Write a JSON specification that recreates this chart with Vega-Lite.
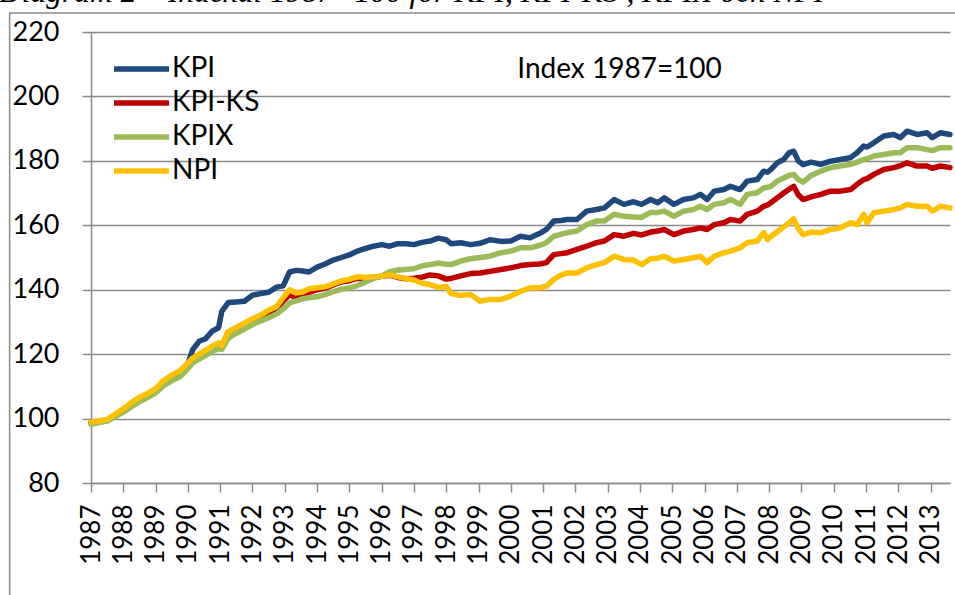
{
  "$schema": "https://vega.github.io/schema/vega-lite/v6.json",
  "autosize": {"type": "none"},
  "width": 859,
  "height": 451,
  "padding": {"left": 91, "top": 32, "right": 5, "bottom": 112},
  "background": "white",
  "title": {
    "text": "Diagram 2 – Indexal 1987=100 för KPI, KPI-KS , KPIX och NPI",
    "anchor": "start",
    "frame": "group",
    "dx": -92,
    "offset": -21,
    "baseline": "alphabetic",
    "font": "Liberation Serif",
    "fontStyle": "italic",
    "fontWeight": "normal",
    "fontSize": 31.5,
    "color": "black"
  },
  "config": {
    "view": {"stroke": null},
    "axis": {
      "labelFont": "Lato",
      "labelFontSize": 27,
      "labelColor": "black",
      "labelOverlap": false,
      "domainColor": "#8a8a8a",
      "domainWidth": 1.5,
      "tickColor": "#8a8a8a",
      "tickWidth": 1.5,
      "tickSize": 9,
      "gridColor": "#8a8a8a",
      "gridWidth": 1.5,
      "title": null
    },
    "axisX": {"labelOverlap": false, "labelFontSize": 26},
    "legend": {
      "labelFont": "Lato",
      "labelFontSize": 28,
      "labelColor": "black"
    }
  },
  "data": {
    "values": [
      {"t": 1987.0, "KPI": 98.6, "KPI-KS": 98.6, "KPIX": 98.3, "NPI": 98.9},
      {"t": 1987.25, "KPI": 99.0, "KPI-KS": 99.0, "KPIX": 98.8, "NPI": 99.3},
      {"t": 1987.5, "KPI": 99.5, "KPI-KS": 99.5, "KPIX": 99.2, "NPI": 99.7},
      {"t": 1987.75, "KPI": 101.0, "KPI-KS": 101.0, "KPIX": 100.6, "NPI": 101.4},
      {"t": 1988.0, "KPI": 102.5, "KPI-KS": 102.5, "KPIX": 102.0, "NPI": 103.0},
      {"t": 1988.25, "KPI": 104.5, "KPI-KS": 104.5, "KPIX": 103.7, "NPI": 105.0},
      {"t": 1988.5, "KPI": 106.0, "KPI-KS": 106.0, "KPIX": 105.2, "NPI": 106.6},
      {"t": 1988.75, "KPI": 107.3, "KPI-KS": 107.3, "KPIX": 106.5, "NPI": 107.8},
      {"t": 1989.0, "KPI": 108.8, "KPI-KS": 108.8, "KPIX": 108.0, "NPI": 109.3},
      {"t": 1989.25, "KPI": 111.0, "KPI-KS": 111.0, "KPIX": 110.2, "NPI": 111.8},
      {"t": 1989.5, "KPI": 112.8, "KPI-KS": 112.8, "KPIX": 111.8, "NPI": 113.5},
      {"t": 1989.75, "KPI": 114.3, "KPI-KS": 114.2, "KPIX": 113.0, "NPI": 114.8},
      {"t": 1990.0, "KPI": 117.0, "KPI-KS": 116.8, "KPIX": 115.5, "NPI": 117.3},
      {"t": 1990.15, "KPI": 121.4, "KPI-KS": 118.6, "KPIX": 117.3, "NPI": 118.8},
      {"t": 1990.35, "KPI": 124.0, "KPI-KS": 119.5, "KPIX": 118.5, "NPI": 120.0},
      {"t": 1990.55, "KPI": 124.8, "KPI-KS": 120.8, "KPIX": 119.6, "NPI": 121.2},
      {"t": 1990.75, "KPI": 127.1, "KPI-KS": 122.0, "KPIX": 120.8, "NPI": 122.5},
      {"t": 1990.95, "KPI": 128.2, "KPI-KS": 123.2, "KPIX": 121.7, "NPI": 123.5},
      {"t": 1991.05, "KPI": 133.3, "KPI-KS": 122.5, "KPIX": 121.5, "NPI": 122.7},
      {"t": 1991.25, "KPI": 136.0, "KPI-KS": 126.8, "KPIX": 125.0, "NPI": 127.0},
      {"t": 1991.5, "KPI": 136.2, "KPI-KS": 128.0, "KPIX": 126.5, "NPI": 128.3},
      {"t": 1991.75, "KPI": 136.4, "KPI-KS": 129.3, "KPIX": 127.8, "NPI": 129.6},
      {"t": 1992.0, "KPI": 138.3, "KPI-KS": 130.8, "KPIX": 129.2, "NPI": 131.0},
      {"t": 1992.25, "KPI": 138.8, "KPI-KS": 131.8, "KPIX": 130.3, "NPI": 132.1},
      {"t": 1992.5, "KPI": 139.2, "KPI-KS": 133.0, "KPIX": 131.3, "NPI": 133.6},
      {"t": 1992.75, "KPI": 140.8, "KPI-KS": 134.0, "KPIX": 132.5, "NPI": 134.8},
      {"t": 1992.95, "KPI": 141.2, "KPI-KS": 136.5, "KPIX": 134.0, "NPI": 137.5},
      {"t": 1993.15, "KPI": 145.5, "KPI-KS": 138.5, "KPIX": 135.9, "NPI": 140.0},
      {"t": 1993.35, "KPI": 146.0, "KPI-KS": 137.5, "KPIX": 136.5, "NPI": 139.0},
      {"t": 1993.55, "KPI": 145.8, "KPI-KS": 138.2, "KPIX": 137.2, "NPI": 139.3},
      {"t": 1993.75, "KPI": 145.5, "KPI-KS": 139.2, "KPIX": 137.5, "NPI": 140.3},
      {"t": 1994.0, "KPI": 147.0, "KPI-KS": 140.0, "KPIX": 137.8, "NPI": 140.6},
      {"t": 1994.25, "KPI": 148.0, "KPI-KS": 140.5, "KPIX": 138.5, "NPI": 140.9},
      {"t": 1994.5, "KPI": 149.2, "KPI-KS": 141.5, "KPIX": 139.4, "NPI": 141.8},
      {"t": 1994.75, "KPI": 150.0, "KPI-KS": 142.4, "KPIX": 140.1, "NPI": 142.7},
      {"t": 1995.0, "KPI": 150.8, "KPI-KS": 142.8, "KPIX": 140.6, "NPI": 143.2},
      {"t": 1995.25, "KPI": 152.0, "KPI-KS": 143.5, "KPIX": 141.3, "NPI": 144.0},
      {"t": 1995.5, "KPI": 152.8, "KPI-KS": 143.5, "KPIX": 142.4, "NPI": 143.9},
      {"t": 1995.75, "KPI": 153.5, "KPI-KS": 143.7, "KPIX": 143.5, "NPI": 144.0},
      {"t": 1996.0, "KPI": 154.0, "KPI-KS": 144.2, "KPIX": 144.2, "NPI": 144.2},
      {"t": 1996.25, "KPI": 153.5, "KPI-KS": 144.5, "KPIX": 145.6, "NPI": 144.6},
      {"t": 1996.5, "KPI": 154.3, "KPI-KS": 143.8, "KPIX": 146.1, "NPI": 144.0},
      {"t": 1996.75, "KPI": 154.3, "KPI-KS": 143.4, "KPIX": 146.3, "NPI": 143.5},
      {"t": 1997.0, "KPI": 154.0, "KPI-KS": 143.6, "KPIX": 146.5, "NPI": 143.0},
      {"t": 1997.25, "KPI": 154.7, "KPI-KS": 143.9, "KPIX": 147.4, "NPI": 142.0},
      {"t": 1997.5, "KPI": 155.1, "KPI-KS": 144.6, "KPIX": 147.8, "NPI": 141.6},
      {"t": 1997.75, "KPI": 156.0, "KPI-KS": 144.3, "KPIX": 148.3, "NPI": 140.7},
      {"t": 1998.0, "KPI": 155.5, "KPI-KS": 143.3, "KPIX": 147.9, "NPI": 141.0},
      {"t": 1998.15, "KPI": 154.3, "KPI-KS": 143.5, "KPIX": 147.8, "NPI": 138.8},
      {"t": 1998.45, "KPI": 154.6, "KPI-KS": 144.3, "KPIX": 148.9, "NPI": 138.2},
      {"t": 1998.75, "KPI": 154.0, "KPI-KS": 145.0, "KPIX": 149.6, "NPI": 138.5},
      {"t": 1999.05, "KPI": 154.4, "KPI-KS": 145.2, "KPIX": 150.0, "NPI": 136.4},
      {"t": 1999.35, "KPI": 155.5, "KPI-KS": 145.7, "KPIX": 150.4, "NPI": 137.0},
      {"t": 1999.7, "KPI": 155.0, "KPI-KS": 146.3, "KPIX": 151.5, "NPI": 137.0},
      {"t": 2000.0, "KPI": 155.1, "KPI-KS": 146.8, "KPIX": 152.0, "NPI": 138.0},
      {"t": 2000.3, "KPI": 156.6, "KPI-KS": 147.5, "KPIX": 153.0, "NPI": 139.5},
      {"t": 2000.6, "KPI": 156.1, "KPI-KS": 147.8, "KPIX": 153.0, "NPI": 140.6},
      {"t": 2000.9, "KPI": 157.5, "KPI-KS": 148.0, "KPIX": 153.8, "NPI": 140.6},
      {"t": 2001.1, "KPI": 158.7, "KPI-KS": 148.4, "KPIX": 154.6, "NPI": 141.1},
      {"t": 2001.33, "KPI": 161.3, "KPI-KS": 150.9, "KPIX": 156.6, "NPI": 143.2},
      {"t": 2001.55, "KPI": 161.5, "KPI-KS": 151.2, "KPIX": 157.2, "NPI": 144.5},
      {"t": 2001.75, "KPI": 161.8, "KPI-KS": 151.5, "KPIX": 157.7, "NPI": 145.2},
      {"t": 2002.05, "KPI": 161.8, "KPI-KS": 152.5, "KPIX": 158.2, "NPI": 145.2},
      {"t": 2002.35, "KPI": 164.4, "KPI-KS": 153.5, "KPIX": 160.2, "NPI": 146.8},
      {"t": 2002.65, "KPI": 164.9, "KPI-KS": 154.6, "KPIX": 161.3, "NPI": 147.8},
      {"t": 2002.9, "KPI": 165.4, "KPI-KS": 155.1, "KPIX": 161.3, "NPI": 148.4},
      {"t": 2003.2, "KPI": 168.0, "KPI-KS": 157.1, "KPIX": 163.4, "NPI": 150.4},
      {"t": 2003.5, "KPI": 166.5, "KPI-KS": 156.6, "KPIX": 162.8, "NPI": 149.4},
      {"t": 2003.8, "KPI": 167.3, "KPI-KS": 157.5, "KPIX": 162.6, "NPI": 149.2},
      {"t": 2004.05, "KPI": 166.5, "KPI-KS": 157.0, "KPIX": 162.5, "NPI": 147.8},
      {"t": 2004.33, "KPI": 168.0, "KPI-KS": 157.9, "KPIX": 164.0, "NPI": 149.6},
      {"t": 2004.55, "KPI": 167.0, "KPI-KS": 158.2, "KPIX": 164.0, "NPI": 149.8},
      {"t": 2004.75, "KPI": 168.5, "KPI-KS": 158.7, "KPIX": 164.4, "NPI": 150.4},
      {"t": 2005.05, "KPI": 166.5, "KPI-KS": 157.1, "KPIX": 162.8, "NPI": 148.9},
      {"t": 2005.35, "KPI": 168.0, "KPI-KS": 158.2, "KPIX": 164.4, "NPI": 149.4},
      {"t": 2005.65, "KPI": 168.5, "KPI-KS": 158.7, "KPIX": 164.9, "NPI": 149.9},
      {"t": 2005.87, "KPI": 169.6, "KPI-KS": 159.2, "KPIX": 165.9, "NPI": 150.4},
      {"t": 2006.08, "KPI": 168.0, "KPI-KS": 158.7, "KPIX": 164.9, "NPI": 148.4},
      {"t": 2006.3, "KPI": 170.6, "KPI-KS": 160.2, "KPIX": 166.5, "NPI": 150.4},
      {"t": 2006.6, "KPI": 171.1, "KPI-KS": 160.8, "KPIX": 167.0, "NPI": 151.5},
      {"t": 2006.8, "KPI": 172.1, "KPI-KS": 161.8, "KPIX": 168.0, "NPI": 152.0},
      {"t": 2007.1, "KPI": 171.1, "KPI-KS": 161.3, "KPIX": 166.5, "NPI": 153.0},
      {"t": 2007.32, "KPI": 173.7, "KPI-KS": 163.4, "KPIX": 169.6, "NPI": 154.6},
      {"t": 2007.63, "KPI": 174.2, "KPI-KS": 164.4, "KPIX": 170.1, "NPI": 155.1},
      {"t": 2007.83, "KPI": 176.8, "KPI-KS": 165.9, "KPIX": 171.6, "NPI": 157.7},
      {"t": 2007.95, "KPI": 176.5, "KPI-KS": 166.3, "KPIX": 171.8, "NPI": 155.6},
      {"t": 2008.05, "KPI": 177.3, "KPI-KS": 167.0, "KPIX": 172.1, "NPI": 156.5},
      {"t": 2008.25, "KPI": 179.4, "KPI-KS": 168.5, "KPIX": 173.7, "NPI": 158.0},
      {"t": 2008.45, "KPI": 180.4, "KPI-KS": 170.0, "KPIX": 174.7, "NPI": 159.5},
      {"t": 2008.62, "KPI": 182.5, "KPI-KS": 171.2, "KPIX": 175.5, "NPI": 160.8},
      {"t": 2008.76, "KPI": 183.0, "KPI-KS": 172.1, "KPIX": 175.8, "NPI": 162.0},
      {"t": 2008.9, "KPI": 180.0, "KPI-KS": 169.5, "KPIX": 174.2, "NPI": 159.0},
      {"t": 2009.05, "KPI": 178.8, "KPI-KS": 168.0, "KPIX": 173.4, "NPI": 157.1},
      {"t": 2009.3, "KPI": 179.6, "KPI-KS": 168.8, "KPIX": 175.5, "NPI": 157.9},
      {"t": 2009.6, "KPI": 178.9, "KPI-KS": 169.6, "KPIX": 176.8, "NPI": 157.7},
      {"t": 2009.9, "KPI": 179.9, "KPI-KS": 170.6, "KPIX": 177.9, "NPI": 158.7},
      {"t": 2010.2, "KPI": 180.4, "KPI-KS": 170.6, "KPIX": 178.4, "NPI": 159.2},
      {"t": 2010.52, "KPI": 181.0, "KPI-KS": 171.1, "KPIX": 178.9, "NPI": 160.8},
      {"t": 2010.72, "KPI": 182.5, "KPI-KS": 172.7, "KPIX": 179.6, "NPI": 160.2},
      {"t": 2010.93, "KPI": 184.6, "KPI-KS": 174.2, "KPIX": 180.4, "NPI": 163.4},
      {"t": 2011.03, "KPI": 184.3, "KPI-KS": 174.5, "KPIX": 180.6, "NPI": 160.8},
      {"t": 2011.24, "KPI": 185.6, "KPI-KS": 175.8, "KPIX": 181.5, "NPI": 163.9},
      {"t": 2011.55, "KPI": 187.7, "KPI-KS": 177.3, "KPIX": 182.0, "NPI": 164.4},
      {"t": 2011.86, "KPI": 188.2, "KPI-KS": 177.9, "KPIX": 182.5, "NPI": 164.9},
      {"t": 2012.06, "KPI": 187.2, "KPI-KS": 178.5, "KPIX": 182.5, "NPI": 165.4},
      {"t": 2012.27, "KPI": 189.2, "KPI-KS": 179.4, "KPIX": 184.1, "NPI": 166.5},
      {"t": 2012.58, "KPI": 188.2, "KPI-KS": 178.4, "KPIX": 184.1, "NPI": 165.9},
      {"t": 2012.89, "KPI": 188.7, "KPI-KS": 178.4, "KPIX": 183.5, "NPI": 165.9},
      {"t": 2013.05, "KPI": 187.2, "KPI-KS": 177.7, "KPIX": 183.2, "NPI": 164.4},
      {"t": 2013.3, "KPI": 188.7, "KPI-KS": 178.4, "KPIX": 184.1, "NPI": 165.9},
      {"t": 2013.6, "KPI": 188.2, "KPI-KS": 177.9, "KPIX": 184.1, "NPI": 165.4}
    ]
  },
  "encoding": {
    "x": {
      "field": "t",
      "type": "quantitative",
      "scale": {"domain": [1987, 2013.6], "nice": false, "zero": false},
      "axis": {
        "values": [1987, 1988, 1989, 1990, 1991, 1992, 1993, 1994, 1995, 1996, 1997, 1998, 1999, 2000, 2001, 2002, 2003, 2004, 2005, 2006, 2007, 2008, 2009, 2010, 2011, 2012, 2013],
        "format": "d",
        "labelAngle": -90,
        "labelAlign": "right",
        "labelBaseline": "middle",
        "labelPadding": 12,
        "labelFontSize": 26,
        "grid": false,
        "labelOverlap": false,
        "labelFlush": false
      }
    },
    "y": {
      "field": "value",
      "type": "quantitative",
      "scale": {"domain": [80, 220], "nice": false, "zero": false},
      "axis": {
        "values": [80, 100, 120, 140, 160, 180, 200, 220],
        "grid": true,
        "labelPadding": 23,
        "labelOverlap": false,
        "labelFlush": false
      }
    }
  },
  "layer": [
    {
      "transform": [
        {"fold": ["KPI", "KPI-KS", "KPIX", "NPI"], "as": ["serie", "value"]}
      ],
      "mark": {"type": "line", "strokeWidth": 5.5, "strokeCap": "round", "strokeJoin": "round"},
      "encoding": {
        "color": {
          "field": "serie",
          "type": "nominal",
          "scale": {
            "domain": ["KPI", "KPI-KS", "KPIX", "NPI"],
            "range": ["#1f497d", "#c00000", "#9bbb59", "#ffc000"]
          },
          "legend": {
            "title": null,
            "orient": "none",
            "legendX": 20,
            "legendY": 21,
            "symbolType": "stroke",
            "symbolStrokeWidth": 5.5,
            "symbolSize": 3025,
            "clipHeight": 32,
            "rowPadding": 2,
            "labelOffset": 0,
            "padding": 0
          }
        }
      }
    },
    {
      "data": {"values": [{"t": 2000.2, "value": 208.2, "label": "Index 1987=100"}]},
      "mark": {"type": "text", "align": "left", "baseline": "middle", "font": "Lato", "fontSize": 28, "color": "black"},
      "encoding": {
        "text": {"field": "label"}
      }
    },
    {
      "data": {"values": [{"t": 1984.48, "t2": 2016, "value": 225.9, "value2": 40}]},
      "mark": {"type": "rect", "filled": false, "color": "#8a8a8a", "strokeWidth": 1.5, "clip": false},
      "encoding": {
        "x2": {"field": "t2"},
        "y2": {"field": "value2"}
      }
    }
  ]
}
